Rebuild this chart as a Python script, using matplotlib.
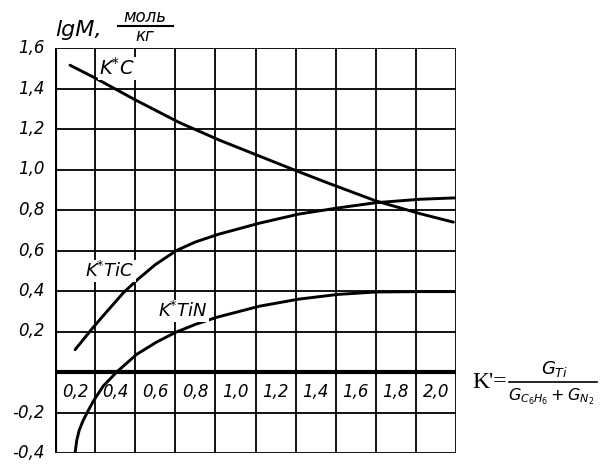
import numpy as np
import matplotlib
matplotlib.use("Agg")
import matplotlib.pyplot as plt
from matplotlib.lines import Line2D

# --- dati (K', lg M) ---
kc_x = [0.175, 0.3, 0.5, 0.72, 0.92, 1.12, 1.313, 1.47, 1.70, 1.92, 2.087]
kc_y = [1.515, 1.452, 1.344, 1.232, 1.145, 1.066, 0.99, 0.93, 0.845, 0.782, 0.74]

ktic_x = [0.2, 0.29, 0.36, 0.44, 0.51, 0.6, 0.706, 0.8, 0.915, 1.12, 1.317, 1.51, 1.70, 1.92, 2.1]
ktic_y = [0.11, 0.22, 0.30, 0.39, 0.455, 0.53, 0.60, 0.642, 0.68, 0.735, 0.78, 0.81, 0.836, 0.853, 0.86]

ktin_x = [0.2, 0.208, 0.22, 0.24, 0.266, 0.29, 0.34, 0.408, 0.507, 0.607, 0.7, 0.8, 0.906,
          1.12, 1.317, 1.51, 1.70, 1.92, 2.1]
ktin_y = [-0.40, -0.34, -0.29, -0.24, -0.19, -0.146, -0.07, 0.0, 0.087, 0.148, 0.195, 0.235, 0.27,
          0.325, 0.36, 0.383, 0.395, 0.397, 0.397]

x_ticks = [0.2, 0.4, 0.6, 0.8, 1.0, 1.2, 1.4, 1.6, 1.8, 2.0]
x_labels = ["0,2", "0,4", "0,6", "0,8", "1,0", "1,2", "1,4", "1,6", "1,8", "2,0"]
y_ticks = [-0.4, -0.2, 0.2, 0.4, 0.6, 0.8, 1.0, 1.2, 1.4, 1.6]
y_labels = ["-0,4", "-0,2", "0,2", "0,4", "0,6", "0,8", "1,0", "1,2", "1,4", "1,6"]

W, H = 600, 470
fig = plt.figure(figsize=(6, 4.7), dpi=100)
ax = fig.add_axes([55 / W, 1 - 453 / H, 401 / W, 405 / H])
ax.set_xlim(0.1, 2.1)
ax.set_ylim(-0.4, 1.6)
for s in ax.spines.values():
    s.set_visible(False)
ax.set_xticks([])
ax.set_yticks([])

# griglia disegnata a mano
for gx in np.arange(0.3, 2.11, 0.2):
    ax.axvline(gx, color="black", lw=1.3, zorder=1)
for gy in np.arange(-0.4, 1.61, 0.2):
    if abs(gy) > 1e-9:
        ax.axhline(gy, color="black", lw=1.3, zorder=1)
ax.axvline(0.1, color="black", lw=3.0, zorder=2)
ax.axhline(0.0, color="black", lw=3.0, zorder=2)

# curve
for xs, ys in [(kc_x, kc_y), (ktic_x, ktic_y), (ktin_x, ktin_y)]:
    ax.plot(xs, ys, color="black", lw=2.1, solid_capstyle="round",
            solid_joinstyle="round", zorder=3)

# etichette assi
for xv, lab in zip(x_ticks, x_labels):
    ax.text(xv, -0.1, lab, ha="center", va="center", fontsize=12, style="italic")
for yv, lab in zip(y_ticks, y_labels):
    ax.text(0.05, yv, lab, ha="right", va="center", fontsize=12, style="italic",
            clip_on=False)

# etichette curve
ax.text(0.41, 1.50, r"K$^{*}$C", ha="center", va="center", fontsize=14, style="italic",
        bbox=dict(facecolor="white", edgecolor="none", pad=0.5))
ax.text(0.375, 0.50, r"K$^{*}$TiC", ha="center", va="center", fontsize=13, style="italic",
        bbox=dict(facecolor="white", edgecolor="none", pad=0.5))
ax.text(0.74, 0.30, r"K$^{*}$TiN", ha="center", va="center", fontsize=13, style="italic",
        bbox=dict(facecolor="white", edgecolor="none", pad=0.5))

def fx(px):
    return px / W

def fy(py):
    return 1 - py / H

# titolo asse y: lg M, моль/кг
fig.text(fx(55), fy(30), "lgM,", ha="left", va="center", fontsize=16, style="italic")
fig.text(fx(145), fy(17), "моль", ha="center", va="center", fontsize=12, style="italic")
fig.text(fx(145), fy(36), "кг", ha="center", va="center", fontsize=12, style="italic")
fig.add_artist(Line2D([fx(118), fx(173)], [fy(26), fy(26)], color="black", lw=1.5))

# titolo asse x: K' = G_Ti / (G_C6H6 + G_N2)
fig.text(fx(472), fy(382), "K'=", ha="left", va="center", fontsize=17, family="Liberation Serif")
fig.text(fx(555), fy(369), r"$G_{Ti}$", ha="center", va="center", fontsize=13)
fig.add_artist(Line2D([fx(509), fx(597)], [fy(382), fy(382)], color="black", lw=1.2))
fig.text(fx(508), fy(397), r"$G_{C_6H_6}+G_{N_2}$", ha="left", va="center", fontsize=11.5)

fig.savefig("out.png", dpi=100)
